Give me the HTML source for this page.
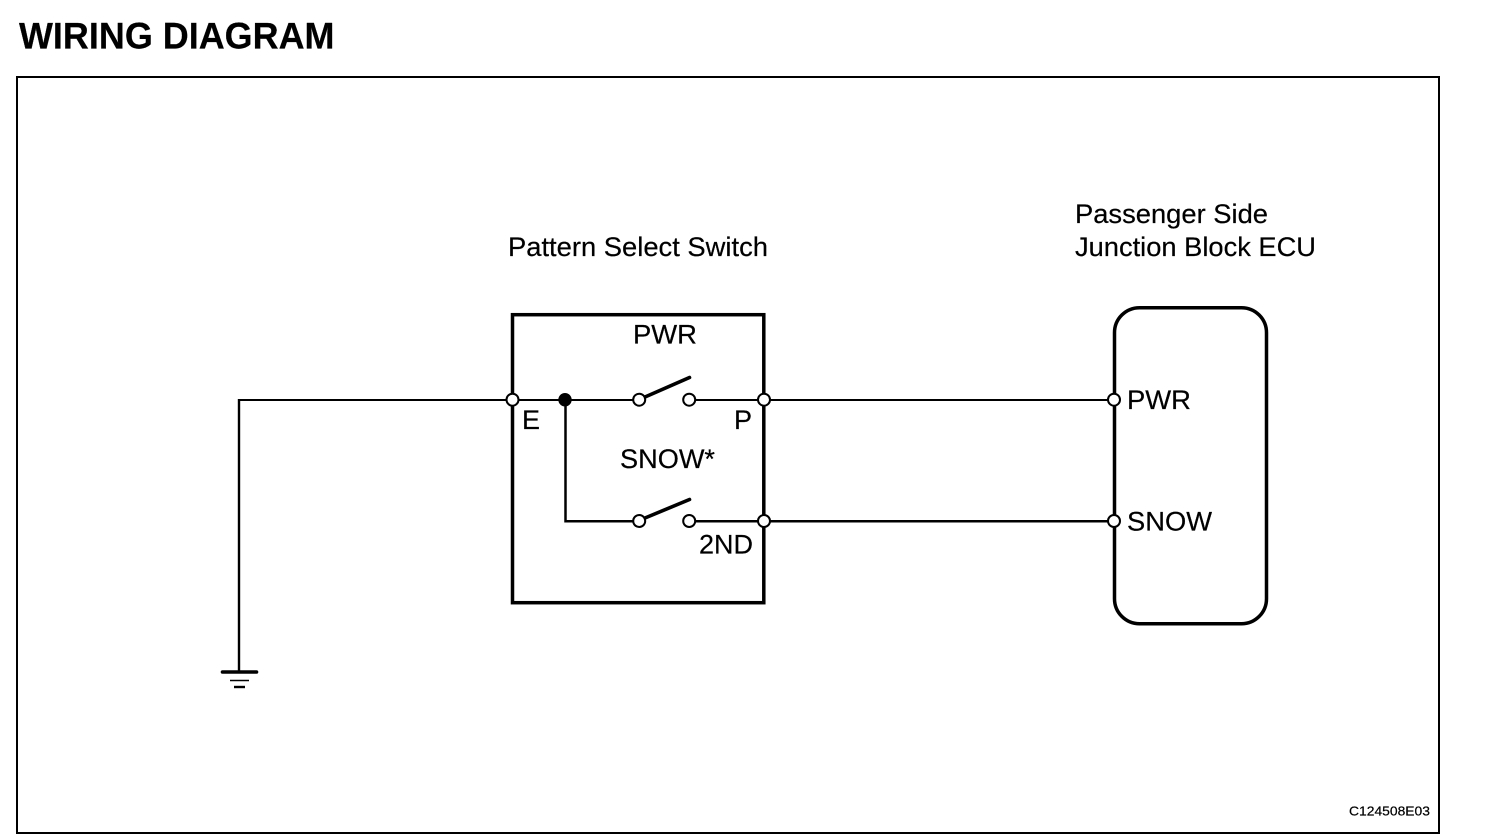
<!DOCTYPE html>
<html>
<head>
<meta charset="utf-8">
<style>
html,body{margin:0;padding:0;background:#fff;}
svg{display:block;}
text{font-family:"Liberation Sans",Arial,sans-serif;fill:#000;stroke:#000;stroke-width:.2px;}
</style>
</head>
<body>
<svg width="1504" height="838" viewBox="0 0 1504 838" xmlns="http://www.w3.org/2000/svg">
<rect width="1504" height="838" fill="#fff"/>
<text x="19" y="48.5" font-size="37" font-weight="bold" textLength="315.5" lengthAdjust="spacingAndGlyphs">WIRING DIAGRAM</text>
<rect x="17" y="77" width="1422" height="756" fill="none" stroke="#000" stroke-width="2"/>

<text x="508" y="256" font-size="27" textLength="260" lengthAdjust="spacingAndGlyphs">Pattern Select Switch</text>
<text x="1075" y="223" font-size="27" textLength="193" lengthAdjust="spacingAndGlyphs">Passenger Side</text>
<text x="1075" y="256" font-size="27" textLength="241" lengthAdjust="spacingAndGlyphs">Junction Block ECU</text>

<rect x="512.5" y="314.7" width="251.3" height="288" fill="none" stroke="#000" stroke-width="3.5"/>
<rect x="1114.5" y="307.7" width="152" height="316" rx="25" ry="25" fill="none" stroke="#000" stroke-width="3.5"/>

<g fill="none" stroke="#000" stroke-width="2">
<path d="M239 400H506"/>
<path d="M512 400H633"/>
<path d="M696 400H758"/>
<path d="M770 400H1108"/>
<path d="M239 399V672" stroke-width="2.4"/>
</g>
<g fill="none" stroke="#000" stroke-width="2.5">
<path d="M565.5 400V521.3H633"/>
<path d="M696 521.3H758"/>
<path d="M770 521.3H1108"/>
</g>
<g fill="none" stroke="#000" stroke-width="3.6" stroke-linecap="round">
<path d="M645 397L689.5 377.5"/>
<path d="M645 518L689.5 499.5"/>
<path d="M222.5 672H256.5"/>
</g>
<g fill="none" stroke="#000">
<path d="M230 680.5H249" stroke-width="1.6"/>
<path d="M234 687H245" stroke-width="2.4"/>
</g>

<circle cx="565" cy="399.7" r="6.7" fill="#000"/>
<g fill="#fff" stroke="#000" stroke-width="2">
<circle cx="512.5" cy="399.7" r="6"/>
<circle cx="639.2" cy="399.7" r="6"/>
<circle cx="689.2" cy="399.7" r="6"/>
<circle cx="764" cy="399.7" r="6"/>
<circle cx="1114" cy="399.7" r="6"/>
<circle cx="639.2" cy="521" r="6"/>
<circle cx="689.2" cy="521" r="6"/>
<circle cx="764" cy="521" r="6"/>
<circle cx="1114" cy="521" r="6"/>
</g>

<text x="633" y="343.5" font-size="27" textLength="64" lengthAdjust="spacingAndGlyphs">PWR</text>
<text x="522" y="429" font-size="27">E</text>
<text x="734" y="429" font-size="27">P</text>
<text x="620" y="468" font-size="27" textLength="95" lengthAdjust="spacingAndGlyphs">SNOW*</text>
<text x="699" y="553.3" font-size="27" textLength="54" lengthAdjust="spacingAndGlyphs">2ND</text>
<text x="1127" y="409" font-size="27" textLength="64" lengthAdjust="spacingAndGlyphs">PWR</text>
<text x="1127" y="530.7" font-size="27" textLength="85" lengthAdjust="spacingAndGlyphs">SNOW</text>
<text x="1349" y="815.5" font-size="13" textLength="81" lengthAdjust="spacingAndGlyphs">C124508E03</text>
</svg>
</body>
</html>
